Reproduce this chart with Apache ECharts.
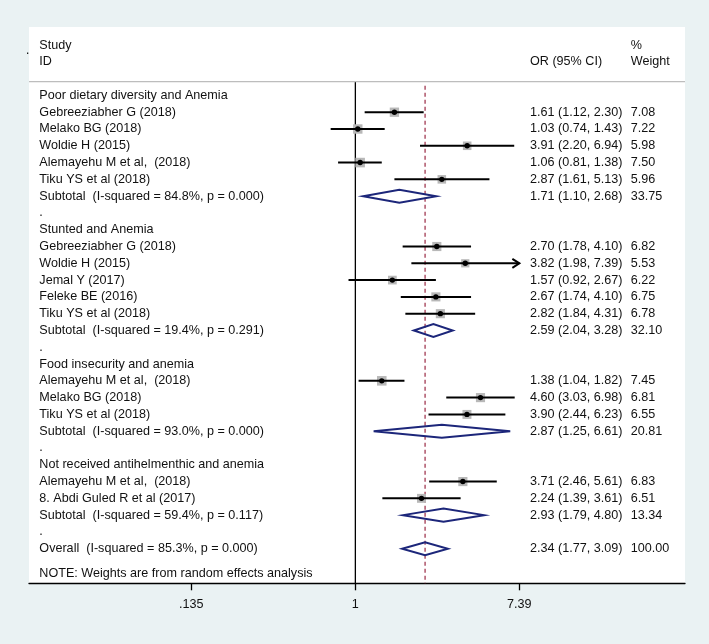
<!DOCTYPE html>
<html>
<head>
<meta charset="utf-8">
<script src="https://cdn.jsdelivr.net/npm/echarts@6/dist/echarts.min.js"></script>
<style>html,body{margin:0;padding:0;background:#eaf2f3;}#chart{width:709px;height:644px;}</style>
</head>
<body>
<div id="chart"></div>
<script>
// ---------- data ----------
const rowLabels = [
  'Poor dietary diversity and Anemia',
  'Gebreeziabher G (2018)',
  'Melako BG (2018)',
  'Woldie H (2015)',
  'Alemayehu M et al,  (2018)',
  'Tiku YS et al (2018)',
  'Subtotal  (I-squared = 84.8%, p = 0.000)',
  '.',
  'Stunted and Anemia',
  'Gebreeziabher G (2018)',
  'Woldie H (2015)',
  'Jemal Y (2017)',
  'Feleke BE (2016)',
  'Tiku YS et al (2018)',
  'Subtotal  (I-squared = 19.4%, p = 0.291)',
  '.',
  'Food insecurity and anemia',
  'Alemayehu M et al,  (2018)',
  'Melako BG (2018)',
  'Tiku YS et al (2018)',
  'Subtotal  (I-squared = 93.0%, p = 0.000)',
  '.',
  'Not received antihelmenthic and anemia',
  'Alemayehu M et al,  (2018)',
  '8. Abdi Guled R et al (2017)',
  'Subtotal  (I-squared = 59.4%, p = 0.117)',
  '.',
  'Overall  (I-squared = 85.3%, p = 0.000)'
];
const noteText = 'NOTE: Weights are from random effects analysis';

const studyRows   = [1, 2, 3, 4, 5, 9, 10, 11, 12, 13, 17, 18, 19, 23, 24];
const studyOR     = [1.61, 1.03, 3.91, 1.06, 2.87, 2.70, 3.82, 1.57, 2.67, 2.82, 1.38, 4.60, 3.90, 3.71, 2.24];
const studyLo     = [1.12, 0.74, 2.20, 0.81, 1.61, 1.78, 1.98, 0.92, 1.74, 1.84, 1.04, 3.03, 2.44, 2.46, 1.39];
const studyHi     = [2.30, 1.43, 6.94, 1.38, 5.13, 4.10, 7.39, 2.67, 4.10, 4.31, 1.82, 6.98, 6.23, 5.61, 3.61];
const studyWeight = [7.08, 7.22, 5.98, 7.50, 5.96, 6.82, 5.53, 6.22, 6.75, 6.78, 7.45, 6.81, 6.55, 6.83, 6.51];

const pooledRows   = [6, 14, 20, 25, 27];
const pooledOR     = [1.71, 2.59, 2.87, 2.93, 2.34];
const pooledLo     = [1.10, 2.04, 1.25, 1.79, 1.77];
const pooledHi     = [2.68, 3.28, 6.61, 4.80, 3.09];
const pooledWeight = [33.75, 32.10, 20.81, 13.34, 100.00];

const tickValues = [-2, 0, 2];          // ln(OR)
const tickLabels = ['.135', '1', '7.39'];

// ---------- layout ----------
const FONT = '"Liberation Sans", Arial, Helvetica, sans-serif';
const FS = 12.6;
const X_MIN = -3.98, X_MAX = 4.02;
const Y_MIN = -4.075, Y_MAX = 29.06;
const NAME_X = -3.854, OR_X = 2.13, W_X = 3.359;
const HEAD_LINE_ROW = -0.82;
const NOTE_ROW = 28.5;
const CLIP_LN = 2;
const BOX_K = 3.5;

function txt(x, y, s) {
  return { type: 'text', x: x, y: y, style: { text: s, x: 0, y: 0, fill: '#111', fontSize: FS, fontFamily: FONT, align: 'left', verticalAlign: 'middle' } };
}
function fmt(v) { return v.toFixed(2); }

const chart = echarts.init(document.getElementById('chart'), null, { renderer: 'canvas' });

const option = {
  animation: false,
  backgroundColor: '#eaf2f3',
  graphic: [{ type: 'text', left: 26, top: 45, style: { text: '.', fill: '#000', fontSize: 12, fontFamily: FONT } }],
  grid: { left: 29, right: 24, top: 27, bottom: 60.7, show: true, backgroundColor: '#ffffff', borderWidth: 0 },
  xAxis: {
    type: 'value', min: X_MIN, max: X_MAX, position: 'bottom',
    axisLine: { show: true, onZero: false, lineStyle: { color: '#000', width: 1.3 } },
    axisTick: { show: true, customValues: tickValues, length: 7, lineStyle: { color: '#000', width: 1.3 } },
    axisLabel: {
      customValues: tickValues, color: '#111', fontSize: FS, fontFamily: FONT, margin: 15,
      formatter: function (v) { const k = tickValues.indexOf(Math.round(v)); return k >= 0 ? tickLabels[k] : ''; }
    },
    splitLine: { show: false }
  },
  yAxis: { type: 'value', inverse: true, min: Y_MIN, max: Y_MAX, show: false },
  series: [
    { // reference lines
      type: 'custom', z: 1,
      data: [[0, 0], [Math.log(pooledOR[pooledOR.length - 1]), 1]],
      renderItem: function (params, api) {
        const x = api.coord([api.value(0), 0])[0];
        const y1 = api.coord([0, HEAD_LINE_ROW])[1];
        const y2 = api.coord([0, Y_MAX])[1];
        const dashed = api.value(1) === 1;
        return {
          type: 'line',
          shape: { x1: x, y1: dashed ? y1 + 4 : y1, x2: x, y2: y2 },
          style: dashed ? { stroke: '#9a2a45', lineWidth: 1.2, lineDash: [4, 3] } : { stroke: '#000', lineWidth: 1.3 }
        };
      }
    },
    { // headers, row labels, note, header rule
      type: 'custom', z: 2,
      data: [[0, 0]],
      renderItem: function (params, api) {
        const children = [];
        const xn = api.coord([NAME_X, 0])[0];
        const xo = api.coord([OR_X, 0])[0];
        const xw = api.coord([W_X, 0])[0];
        const ry = r => api.coord([0, r])[1];
        children.push(txt(xn, ry(-3), 'Study'));
        children.push(txt(xn, ry(-2), 'ID'));
        children.push(txt(xo, ry(-2), 'OR (95% CI)'));
        children.push(txt(xw, ry(-3), '%'));
        children.push(txt(xw, ry(-2), 'Weight'));
        const hl = ry(HEAD_LINE_ROW);
        children.push({ type: 'line', shape: { x1: api.coord([X_MIN, 0])[0], y1: hl, x2: api.coord([X_MAX, 0])[0], y2: hl }, style: { stroke: '#bdbdbd', lineWidth: 1.2 } });
        rowLabels.forEach((s, i) => children.push(txt(xn, ry(i), s)));
        children.push(txt(xn, ry(NOTE_ROW), noteText));
        return { type: 'group', children: children };
      }
    },
    { // individual studies
      type: 'custom', z: 3,
      data: studyRows.map((r, i) => [Math.log(studyOR[i]), r]),
      renderItem: function (params, api) {
        const i = params.dataIndex;
        const y = api.coord([0, studyRows[i]])[1];
        const lnHi = Math.log(studyHi[i]);
        const clipped = lnHi >= CLIP_LN;
        const xl = api.coord([Math.log(studyLo[i]), 0])[0];
        const xh = api.coord([Math.min(lnHi, CLIP_LN), 0])[0];
        const xc = api.coord([Math.log(studyOR[i]), 0])[0];
        const s = BOX_K * Math.sqrt(studyWeight[i]);
        const children = [
          { type: 'rect', shape: { x: xc - s / 2, y: y - s / 2, width: s, height: s }, style: { fill: '#b8b8b8' } },
          { type: 'line', shape: { x1: xl, y1: y, x2: xh, y2: y }, style: { stroke: '#000', lineWidth: 2 } },
          { type: 'circle', shape: { cx: xc, cy: y, r: 2.7 }, style: { fill: '#000' } }
        ];
        if (clipped) {
          children.push({ type: 'polyline', shape: { points: [[xh - 7, y - 4.5], [xh, y], [xh - 7, y + 4.5]] }, style: { stroke: '#000', lineWidth: 2, fill: null } });
        }
        children.push(txt(api.coord([OR_X, 0])[0], y, fmt(studyOR[i]) + ' (' + fmt(studyLo[i]) + ', ' + fmt(studyHi[i]) + ')'));
        children.push(txt(api.coord([W_X, 0])[0], y, fmt(studyWeight[i])));
        return { type: 'group', children: children };
      }
    },
    { // pooled diamonds
      type: 'custom', z: 3,
      data: pooledRows.map((r, i) => [Math.log(pooledOR[i]), r]),
      renderItem: function (params, api) {
        const i = params.dataIndex;
        const y = api.coord([0, pooledRows[i]])[1];
        const xl = api.coord([Math.log(pooledLo[i]), 0])[0];
        const xh = api.coord([Math.log(pooledHi[i]), 0])[0];
        const xc = api.coord([Math.log(pooledOR[i]), 0])[0];
        const h = 6.5;
        return {
          type: 'group', children: [
            { type: 'polygon', shape: { points: [[xl, y], [xc, y - h], [xh, y], [xc, y + h]] }, style: { stroke: '#1c267a', lineWidth: 2, fill: null } },
            txt(api.coord([OR_X, 0])[0], y, fmt(pooledOR[i]) + ' (' + fmt(pooledLo[i]) + ', ' + fmt(pooledHi[i]) + ')'),
            txt(api.coord([W_X, 0])[0], y, fmt(pooledWeight[i]))
          ]
        };
      }
    }
  ]
};
chart.setOption(option);
</script>
</body>
</html>
